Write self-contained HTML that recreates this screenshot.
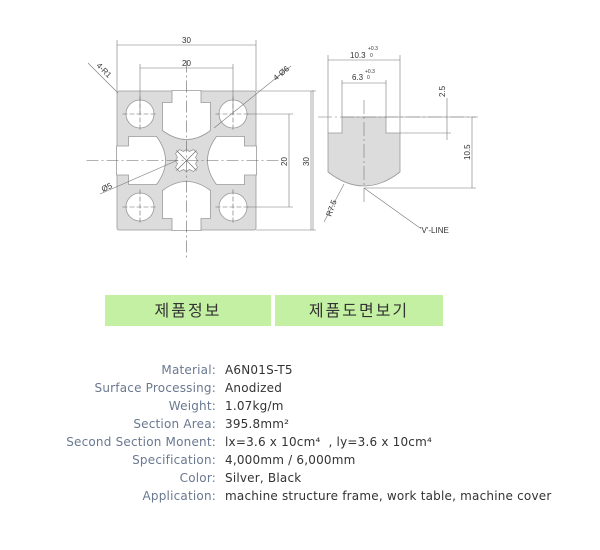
<!DOCTYPE html>
<html><head><meta charset="utf-8"><style>
body{margin:0;background:#fff;width:600px;height:550px;position:relative;overflow:hidden;font-family:"Liberation Sans","Noto Sans CJK KR",sans-serif}
.btn{position:absolute;top:295px;height:31px;background:#c4f0a4;color:#333;font-size:16px;font-family:"Noto Sans CJK KR","NanumGothic",sans-serif;text-align:center;line-height:29px;letter-spacing:2px}
.row{position:absolute;left:0;width:600px;font-size:12px;height:18px;line-height:18px;font-family:"DejaVu Sans",sans-serif;letter-spacing:0.2px}
.row .l{position:absolute;right:384px;color:#6a7890;white-space:nowrap}
.row .v{position:absolute;left:225px;color:#333;white-space:nowrap}
</style></head><body>
<svg width="600" height="290" style="position:absolute;left:0;top:0" font-family="Liberation Sans, sans-serif" font-size="8" fill="#333">
<defs><path id="slot" d="M-14.5,-70 L-14.5,-58 L-24,-58 L-24,-30 Q0,-12 24,-30 L24,-58 L14.5,-58 L14.5,-70 Z"/></defs>
<g transform="translate(186.5,160.5)">
<rect x="-69.5" y="-69.5" width="139" height="139" rx="2" fill="#dcdcdc" stroke="#999" stroke-width="0.8"/>
<g fill="#fff" stroke="#999" stroke-width="0.8">
<use href="#slot"/><use href="#slot" transform="rotate(90)"/><use href="#slot" transform="rotate(180)"/><use href="#slot" transform="rotate(270)"/>
<circle cx="-46.5" cy="-46.5" r="14"/><circle cx="46.5" cy="-46.5" r="14"/><circle cx="-46.5" cy="46.5" r="14"/><circle cx="46.5" cy="46.5" r="14"/>
<path d="M-11,-7 L-7,-11 L-3,-9 L0,-11 L3,-9 L7,-11 L11,-7 L9,-3 L11,0 L9,3 L11,7 L7,11 L3,9 L0,11 L-3,9 L-7,11 L-11,7 L-9,3 L-11,0 L-9,-3 Z"/>
</g>
<g stroke="#666" stroke-width="0.6" fill="none">
<path d="M-10,-10 L10,10 M10,-10 L-10,10"/>
<path d="M0,-100 V100 M-100,0 H100" stroke-dasharray="12,3,2,3"/>
<path d="M-64,-46.5 H-29 M-46.5,-64 V-29 M29,-46.5 H64 M46.5,-64 V-29 M-64,46.5 H-29 M-46.5,29 V64 M29,46.5 H64 M46.5,29 V64" stroke-dasharray="5,2"/>
</g>
</g>
<g stroke="#777" stroke-width="0.6" fill="none">
<path d="M117,40 V91 M256,40 V91 M117,45 H256"/>
<path d="M140,64 V114 M233,64 V114 M140,68 H233"/>
<path d="M256,91 H316 M311,91 V230 M256,230 H316"/>
<path d="M247,114 H293 M289,114 V207 M247,207 H293"/>
<path d="M88,63 L118,93 M291,66 L214,128 M100,194 L178,160"/>
</g>
<text x="182" y="43">30</text><text x="182" y="66">20</text>
<text transform="translate(287,166) rotate(-90)">20</text>
<text transform="translate(309,166) rotate(-90)">30</text>
<text transform="translate(96,66) rotate(45)">4-R1</text>
<text transform="translate(276,81) rotate(-40)">4-Ø6</text>
<text transform="translate(103,192) rotate(-25)">Ø5</text>
<path d="M342,117 V133 H328 V172 Q364,200 400,172 V133 H386 V117 Z" fill="#dcdcdc" stroke="#999" stroke-width="0.8"/>
<g stroke="#777" stroke-width="0.6" fill="none">
<path d="M318,117 H478" stroke-dasharray="14,3,2,3"/>
<path d="M364,100 V205" stroke-dasharray="14,3,2,3"/>
<path d="M328,55 V133 M400,55 V133 M328,60 H400"/>
<path d="M342,80 V117 M386,80 V117 M342,83 H386"/>
<path d="M400,133 H451 M447,98 V140 M364,188 H476 M472,117 V188 M386,117 H476"/>
<path d="M344,184 L324,222 M364,188 L420,228"/>
<path d="M313,90 V230"/>
</g>
<text x="350" y="58">10.3</text><text x="368" y="50" font-size="5">+0.3</text><text x="370" y="57" font-size="5">0</text>
<text x="352" y="80">6.3</text><text x="365" y="73" font-size="5">+0.3</text><text x="367" y="79" font-size="5">0</text>
<text transform="translate(445,97) rotate(-90)">2.5</text>
<text transform="translate(470,160) rotate(-90)">10.5</text>
<text transform="translate(331,217) rotate(-70)">R7.5</text>
<text x="420" y="233">'V'-LINE</text>
</svg>
<div class="btn" style="left:105px;width:166px">제품정보</div>
<div class="btn" style="left:275px;width:168px">제품도면보기</div>
<div class="row" style="top:361px"><span class="l">Material:</span><span class="v">A6N01S-T5</span></div>
<div class="row" style="top:379px"><span class="l">Surface Processing:</span><span class="v">Anodized</span></div>
<div class="row" style="top:397px"><span class="l">Weight:</span><span class="v">1.07kg/m</span></div>
<div class="row" style="top:415px"><span class="l">Section Area:</span><span class="v">395.8mm²</span></div>
<div class="row" style="top:433px"><span class="l">Second Section Monent:</span><span class="v">lx=3.6 x 10cm⁴ &nbsp;, ly=3.6 x 10cm⁴</span></div>
<div class="row" style="top:451px"><span class="l">Specification:</span><span class="v">4,000mm / 6,000mm</span></div>
<div class="row" style="top:469px"><span class="l">Color:</span><span class="v">Silver, Black</span></div>
<div class="row" style="top:487px"><span class="l">Application:</span><span class="v">machine structure frame, work table, machine cover</span></div>
</body></html>
